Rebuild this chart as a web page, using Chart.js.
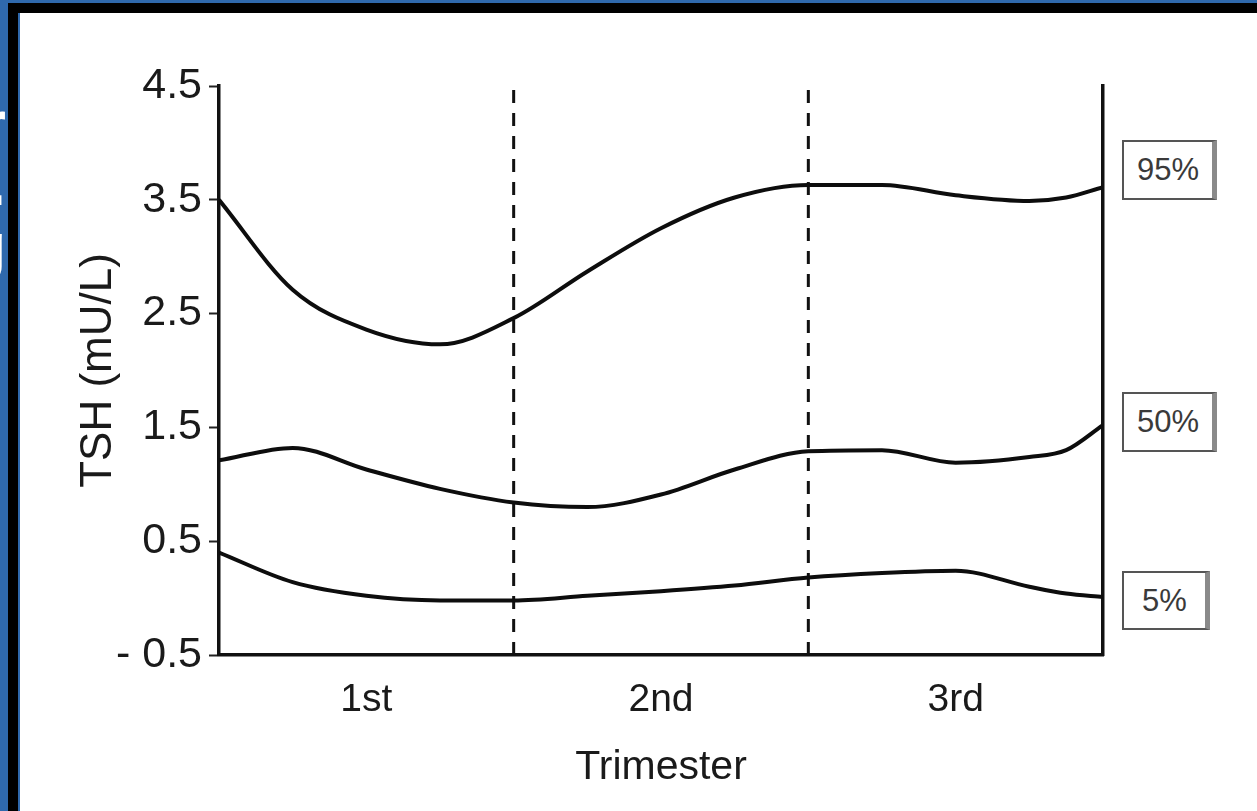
<!DOCTYPE html>
<html lang="en">
<head>
    <meta charset="UTF-8">
    <title>TSH by Trimester</title>
    <script src="https://cdn.jsdelivr.net/npm/chart.js"></script>
    <style>
        html, body {
            margin: 0;
            padding: 0;
            background: #ffffff;
        }
        .frame {
            position: relative;
            width: 1257px;
            height: 811px;
            overflow: hidden;
            background: #ffffff;
        }
        .topBlue { position: absolute; left: 0; top: 0; width: 1257px; height: 3px; background: #2f69ad; }
        .topBlack { position: absolute; left: 0; top: 3px; width: 1257px; height: 10px; background: #000; }
        .leftBlue { position: absolute; left: 0; top: 0; width: 8px; height: 811px; background: #2f69ad; overflow: hidden; }
        .leftBlack { position: absolute; left: 8px; top: 3px; width: 10px; height: 808px; background: #000; }
        .leftLine { position: absolute; left: 18px; top: 13px; width: 2px; height: 798px; background: #2f69ad; }
        .ghost {
            position: absolute;
            color: #fff;
            font-family: 'Liberation Sans', Arial, sans-serif;
            font-size: 64px;
            font-weight: bold;
            line-height: 1;
        }
        canvas { position: absolute; left: 0; top: 0; }
        .tag {
            position: absolute;
            box-sizing: border-box;
            border: 2px solid #555;
            border-right: 5px solid #8a8a8a;
            background: #fff;
            color: #3a3a3a;
            font-family: 'Liberation Sans', Arial, sans-serif;
            font-size: 31px;
            display: flex;
            align-items: center;
            justify-content: center;
        }
    </style>
</head>
<body>
<div class="frame">
    <div class="topBlue"></div>
    <div class="topBlack"></div>
    <div class="leftBlue">
        <span class="ghost" style="left:-19px; top:92px;">r</span>
        <span class="ghost" style="left:-12px; top:151px;">.</span>
        <span class="ghost" style="left:-33px; top:214px;">g</span>
    </div>
    <div class="leftBlack"></div>
    <div class="leftLine"></div>
    <canvas id="tshChart" width="1257" height="811"></canvas>
    <div class="tag" style="left:1122px; top:140px; width:95px; height:60px;">95%</div>
    <div class="tag" style="left:1122px; top:392px; width:95px; height:60px;">50%</div>
    <div class="tag" style="left:1122px; top:571px; width:88px; height:59px;">5%</div>
</div>

<script>
    // position within pregnancy, in trimesters (0 = start, 3 = term)
    const trimesterPos = [0, 0.25, 0.5, 0.75, 1, 1.25, 1.5, 1.75, 2, 2.25, 2.5, 2.75, 2.875, 3];
    const p95 = [3.50, 2.71, 2.36, 2.23, 2.46, 2.87, 3.25, 3.52, 3.63, 3.63, 3.54, 3.49, 3.52, 3.61];
    const p50 = [1.21, 1.32, 1.13, 0.96, 0.84, 0.80, 0.91, 1.13, 1.29, 1.30, 1.19, 1.24, 1.30, 1.52];
    const p5  = [0.40, 0.14, 0.02, -0.02, -0.02, 0.02, 0.06, 0.11, 0.18, 0.22, 0.24, 0.10, 0.04, 0.01];

    const trimesterLabels = ['1st', '2nd', '3rd'];
    const labelPos = [0.5, 1.5, 2.5];
    const boundaries = [1, 2];
    const yTicks = [-0.5, 0.5, 1.5, 2.5, 3.5, 4.5];

    const yMin = -0.5, yMax = 4.5;

    function curve(values) {
        return {
            data: values.map((v, i) => ({ x: trimesterPos[i], y: v })),
            borderColor: '#0d0d0d',
            borderWidth: 4,
            pointRadius: 0,
            fill: false,
            cubicInterpolationMode: 'monotone'
        };
    }

    function divider(xv) {
        return {
            data: [{ x: xv, y: yMin }, { x: xv, y: yMax }],
            borderColor: '#111',
            borderWidth: 3,
            borderDash: [13, 10],
            pointRadius: 0,
            fill: false,
            tension: 0
        };
    }

    const datasets = [curve(p95), curve(p50), curve(p5)].concat(boundaries.map(divider));

    const font = "'Liberation Sans', Arial, sans-serif";

    new Chart(document.getElementById('tshChart').getContext('2d'), {
        type: 'line',
        data: { datasets: datasets },
        options: {
            responsive: false,
            animation: false,
            events: [],
            layout: { padding: { left: 72, top: 86, right: 154, bottom: 0 } },
            plugins: {
                legend: { display: false },
                tooltip: { enabled: false }
            },
            scales: {
                x: {
                    type: 'linear',
                    min: 0,
                    max: 3,
                    afterBuildTicks: s => { s.ticks = labelPos.map(v => ({ value: v })); },
                    afterFit: s => { s.height = 156; },
                    ticks: {
                        callback: (v) => trimesterLabels[labelPos.indexOf(v)],
                        font: { family: font, size: 39 },
                        color: '#1a1a1a',
                        padding: 22,
                        maxRotation: 0,
                        autoSkip: false
                    },
                    grid: { display: false, drawTicks: false },
                    border: { display: true, color: '#111', width: 3.5 },
                    title: {
                        display: true,
                        text: 'Trimester',
                        font: { family: font, size: 41 },
                        color: '#1a1a1a',
                        padding: { top: 0, bottom: 19 }
                    }
                },
                y: {
                    min: yMin,
                    max: yMax,
                    afterBuildTicks: s => { s.ticks = yTicks.map(v => ({ value: v })); },
                    afterFit: s => { s.width = 147; },
                    ticks: {
                        callback: v => (v < 0 ? '- ' + Math.abs(v).toFixed(1) : v.toFixed(1)),
                        font: { family: font, size: 43 },
                        color: '#1a1a1a',
                        padding: 7
                    },
                    grid: {
                        drawOnChartArea: false,
                        drawTicks: true,
                        tickLength: 10,
                        tickColor: '#222',
                        tickWidth: 2
                    },
                    border: { display: true, color: '#111', width: 3.5 },
                    title: {
                        display: true,
                        text: 'TSH (mU/L)',
                        font: { family: font, size: 44 },
                        color: '#1a1a1a',
                        padding: { top: 0, bottom: 0 }
                    }
                },
                y2: {
                    position: 'right',
                    min: yMin,
                    max: yMax,
                    afterFit: s => { s.width = 0; },
                    ticks: { display: false },
                    grid: { display: false, drawTicks: false },
                    border: { display: true, color: '#111', width: 3.5 }
                }
            }
        }
    });
</script>
</body>
</html>
